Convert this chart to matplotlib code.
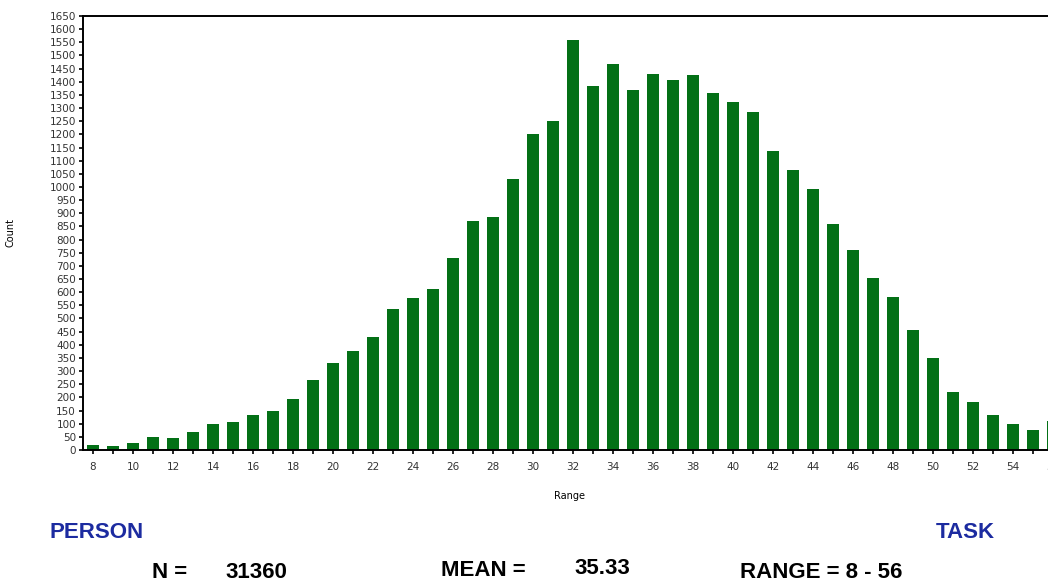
import matplotlib
matplotlib.use("Agg")
import matplotlib.pyplot as plt

scores = list(range(8, 57))
counts = [20, 15, 25, 48, 47, 68, 100, 105, 132, 148, 195, 265, 330, 378,
          430, 535, 579, 611, 730, 870, 885, 1031, 1202, 1250,
          1559, 1382, 1466, 1368, 1430, 1406, 1425, 1358, 1322, 1286,
          1137, 1066, 992, 859, 761, 655, 583, 457, 348, 222,
          184, 132, 100, 76, 110]
y_ticks = list(range(0, 1651, 50))
x_labels = list(range(8, 57, 2))

GREEN = "#037016"
BLUE = "#1c2ba0"
TICK = "#333333"
NARROW = ["Liberation Sans Narrow", "Liberation Sans", "DejaVu Sans"]

fig = plt.figure(figsize=(10.48, 5.84), dpi=100)
ax = fig.add_axes([0.0792, 0.2295, 0.935, 0.7431])
ax.bar(scores, counts, width=0.6, color=GREEN, edgecolor="none")
ax.set_xlim(7.5, 56.5)
ax.set_ylim(0, 1650)
ax.set_yticks(y_ticks)
ax.set_yticklabels([str(v) for v in y_ticks], fontsize=7.5, color=TICK)
ax.set_xticks(scores, minor=True)
ax.set_xticks(x_labels)
ax.set_xticklabels([str(v) for v in x_labels], fontsize=7.5, color=TICK)
ax.tick_params(axis="both", which="both", direction="out", length=3, width=1.2,
               pad=2)
ax.tick_params(axis="x", which="major", pad=6)
for sp in ("left", "bottom", "top"):
    ax.spines[sp].set_linewidth(1.4)
ax.spines["right"].set_visible(False)
ax.set_ylabel("Count", fontsize=7)
ax.yaxis.set_label_coords(-68 / 980, 0.5)
ax.set_xlabel("Range", fontsize=7)
ax.xaxis.set_label_coords((570 - 83) / 980, -0.095)

fig.text(97 / 1048, 1 - 532 / 584, "PERSON", color=BLUE, fontsize=16,
         fontweight="bold", ha="center", va="center", family=NARROW)
fig.text(965 / 1048, 1 - 532 / 584, "TASK", color=BLUE, fontsize=16,
         fontweight="bold", ha="center", va="center", family=NARROW)
stats = [(170, 572, "N ="), (256, 572, "31360"), (483, 571, "MEAN ="),
         (602, 569, "35.33"), (821, 573, "RANGE = 8 - 56")]
for x, y, s in stats:
    fig.text(x / 1048, 1 - y / 584, s, color="black", fontsize=16,
             fontweight="bold", ha="center", va="center", family=NARROW)

fig.savefig("out.png", dpi=100, facecolor="white")
